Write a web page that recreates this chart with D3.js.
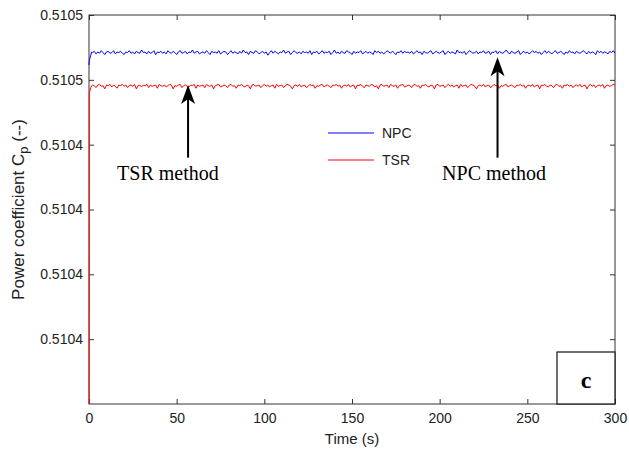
<!DOCTYPE html>
<html><head><meta charset="utf-8">
<script src="https://cdn.jsdelivr.net/npm/d3@7"></script>
<style>
html,body{margin:0;padding:0;background:#fff;}
svg{display:block;}
</style></head>
<body>
<script>
// ---------------- data ----------------
const xTicks = [0, 50, 100, 150, 200, 250, 300];
const yTicks = [0.51041, 0.51042, 0.51043, 0.51044, 0.51045, 0.51046];
const yTickLabels = ["0.5104", "0.5104", "0.5104", "0.5104", "0.5105", "0.5105"];
const yDomain = [0.51040, 0.51046];
const xDomain = [0, 300];

// start-up transient (s)
const startTime = [0, 0.2, 1, 1.5];
const npcStart = [0.5104523, 0.5104530, 0.5104538, 0.5104543];
const tsrStart = [0.5103800, 0.5104480, 0.5104488, 0.5104491];

// steady part, sampled every 1 s from 2 s to 300 s
const npcSteady = [
0.5104542,0.5104544,0.5104540,0.5104543,0.5104541,0.5104545,0.5104542,0.5104539,0.5104543,0.5104544,0.5104541,0.5104542,0.5104545,0.5104540,0.5104543,0.5104542,0.5104544,0.5104541,0.5104539,0.5104543,
0.5104542,0.5104545,0.5104541,0.5104543,0.5104540,0.5104544,0.5104542,0.5104541,0.5104546,0.5104542,0.5104543,0.5104540,0.5104544,0.5104541,0.5104542,0.5104545,0.5104539,0.5104543,0.5104542,0.5104544,
0.5104541,0.5104543,0.5104540,0.5104545,0.5104542,0.5104541,0.5104544,0.5104542,0.5104539,0.5104543,0.5104545,0.5104541,0.5104542,0.5104544,0.5104540,0.5104543,0.5104542,0.5104546,0.5104541,0.5104543,
0.5104544,0.5104540,0.5104542,0.5104543,0.5104541,0.5104545,0.5104542,0.5104539,0.5104544,0.5104542,0.5104543,0.5104541,0.5104545,0.5104540,0.5104542,0.5104544,0.5104543,0.5104539,0.5104542,0.5104545,
0.5104541,0.5104543,0.5104542,0.5104540,0.5104544,0.5104541,0.5104546,0.5104542,0.5104543,0.5104539,0.5104544,0.5104542,0.5104541,0.5104545,0.5104543,0.5104540,0.5104542,0.5104544,0.5104541,0.5104543,
0.5104538,0.5104542,0.5104545,0.5104541,0.5104544,0.5104542,0.5104540,0.5104543,0.5104542,0.5104546,0.5104541,0.5104543,0.5104544,0.5104539,0.5104542,0.5104545,0.5104542,0.5104541,0.5104543,0.5104540,
0.5104544,0.5104542,0.5104543,0.5104541,0.5104545,0.5104539,0.5104543,0.5104542,0.5104544,0.5104540,0.5104542,0.5104545,0.5104541,0.5104543,0.5104542,0.5104544,0.5104539,0.5104542,0.5104546,0.5104541,
0.5104543,0.5104540,0.5104544,0.5104542,0.5104541,0.5104545,0.5104543,0.5104542,0.5104539,0.5104544,0.5104541,0.5104543,0.5104542,0.5104545,0.5104540,0.5104542,0.5104544,0.5104541,0.5104543,0.5104542,
0.5104539,0.5104545,0.5104542,0.5104544,0.5104541,0.5104543,0.5104540,0.5104542,0.5104545,0.5104543,0.5104541,0.5104544,0.5104542,0.5104539,0.5104543,0.5104542,0.5104545,0.5104541,0.5104544,0.5104542,
0.5104543,0.5104541,0.5104544,0.5104540,0.5104542,0.5104545,0.5104542,0.5104543,0.5104539,0.5104544,0.5104542,0.5104541,0.5104543,0.5104545,0.5104540,0.5104542,0.5104544,0.5104542,0.5104541,0.5104543,
0.5104545,0.5104539,0.5104542,0.5104544,0.5104541,0.5104543,0.5104542,0.5104540,0.5104546,0.5104542,0.5104543,0.5104541,0.5104544,0.5104539,0.5104542,0.5104545,0.5104543,0.5104541,0.5104542,0.5104544,
0.5104540,0.5104543,0.5104542,0.5104545,0.5104541,0.5104542,0.5104544,0.5104539,0.5104543,0.5104542,0.5104545,0.5104540,0.5104544,0.5104542,0.5104541,0.5104543,0.5104546,0.5104542,0.5104540,0.5104544,
0.5104542,0.5104541,0.5104543,0.5104545,0.5104539,0.5104542,0.5104544,0.5104541,0.5104543,0.5104540,0.5104542,0.5104545,0.5104542,0.5104544,0.5104541,0.5104543,0.5104539,0.5104542,0.5104545,0.5104541,
0.5104544,0.5104542,0.5104540,0.5104543,0.5104545,0.5104541,0.5104542,0.5104544,0.5104542,0.5104539,0.5104543,0.5104541,0.5104545,0.5104542,0.5104543,0.5104540,0.5104544,0.5104542,0.5104541,0.5104543,
0.5104545,0.5104542,0.5104540,0.5104544,0.5104541,0.5104543,0.5104542,0.5104539,0.5104545,0.5104542,0.5104544,0.5104541,0.5104543,0.5104542,0.5104540,0.5104544,0.5104542,0.5104545,0.5104541
];
const tsrSteady = [
0.5104492,0.5104491,0.5104488,0.5104492,0.5104493,0.5104490,0.5104491,0.5104486,0.5104492,0.5104491,0.5104493,0.5104489,0.5104492,0.5104490,0.5104487,0.5104492,0.5104491,0.5104493,0.5104490,0.5104492,
0.5104488,0.5104491,0.5104492,0.5104490,0.5104493,0.5104486,0.5104491,0.5104492,0.5104489,0.5104492,0.5104491,0.5104493,0.5104488,0.5104492,0.5104490,0.5104491,0.5104492,0.5104487,0.5104493,0.5104491,
0.5104490,0.5104492,0.5104489,0.5104491,0.5104493,0.5104492,0.5104486,0.5104491,0.5104490,0.5104492,0.5104493,0.5104488,0.5104491,0.5104492,0.5104490,0.5104489,0.5104492,0.5104491,0.5104493,0.5104487,
0.5104492,0.5104490,0.5104491,0.5104492,0.5104488,0.5104493,0.5104491,0.5104490,0.5104492,0.5104486,0.5104491,0.5104492,0.5104493,0.5104489,0.5104490,0.5104492,0.5104491,0.5104488,0.5104492,0.5104493,
0.5104490,0.5104491,0.5104487,0.5104492,0.5104491,0.5104493,0.5104490,0.5104489,0.5104492,0.5104491,0.5104486,0.5104492,0.5104493,0.5104490,0.5104491,0.5104492,0.5104488,0.5104491,0.5104493,0.5104490,
0.5104492,0.5104489,0.5104491,0.5104492,0.5104487,0.5104493,0.5104490,0.5104491,0.5104492,0.5104488,0.5104491,0.5104493,0.5104492,0.5104490,0.5104486,0.5104491,0.5104492,0.5104490,0.5104493,0.5104489,
0.5104491,0.5104492,0.5104488,0.5104490,0.5104493,0.5104491,0.5104492,0.5104487,0.5104491,0.5104490,0.5104492,0.5104493,0.5104489,0.5104491,0.5104492,0.5104490,0.5104488,0.5104492,0.5104491,0.5104493,
0.5104490,0.5104492,0.5104487,0.5104491,0.5104492,0.5104490,0.5104493,0.5104489,0.5104491,0.5104492,0.5104486,0.5104492,0.5104491,0.5104493,0.5104490,0.5104488,0.5104492,0.5104491,0.5104490,0.5104493,
0.5104492,0.5104489,0.5104491,0.5104486,0.5104492,0.5104493,0.5104490,0.5104491,0.5104492,0.5104488,0.5104493,0.5104491,0.5104490,0.5104492,0.5104487,0.5104491,0.5104492,0.5104493,0.5104489,0.5104490,
0.5104492,0.5104491,0.5104488,0.5104492,0.5104493,0.5104490,0.5104491,0.5104487,0.5104492,0.5104491,0.5104493,0.5104490,0.5104489,0.5104492,0.5104491,0.5104486,0.5104492,0.5104493,0.5104490,0.5104491,
0.5104492,0.5104488,0.5104491,0.5104493,0.5104490,0.5104492,0.5104489,0.5104491,0.5104492,0.5104487,0.5104493,0.5104490,0.5104491,0.5104492,0.5104488,0.5104491,0.5104493,0.5104492,0.5104490,0.5104486,
0.5104491,0.5104492,0.5104490,0.5104493,0.5104489,0.5104491,0.5104492,0.5104488,0.5104490,0.5104493,0.5104491,0.5104492,0.5104487,0.5104491,0.5104490,0.5104492,0.5104493,0.5104489,0.5104491,0.5104492,
0.5104490,0.5104488,0.5104492,0.5104491,0.5104493,0.5104490,0.5104492,0.5104487,0.5104491,0.5104492,0.5104490,0.5104493,0.5104489,0.5104491,0.5104492,0.5104486,0.5104492,0.5104491,0.5104493,0.5104490,
0.5104489,0.5104492,0.5104491,0.5104488,0.5104492,0.5104493,0.5104490,0.5104491,0.5104487,0.5104492,0.5104491,0.5104493,0.5104490,0.5104492,0.5104488,0.5104491,0.5104492,0.5104490,0.5104493,0.5104489,
0.5104491,0.5104492,0.5104486,0.5104491,0.5104493,0.5104490,0.5104492,0.5104488,0.5104491,0.5104492,0.5104490,0.5104493,0.5104487,0.5104491,0.5104492,0.5104490,0.5104491,0.5104493,0.5104492
];
const seriesNames = ["NPC", "TSR"];
const seriesColors = ["#0000ff", "#ff0000"];

// annotations: label, time, tip value, tail value, text position
const annLabels = ["TSR method", "NPC method"];
const annTime = [56.5, 233];
const annTip = [0.5104492, 0.5104535];
const annTail = [0.5104380, 0.5104380];
const annTextTime = [45, 231];
const annTextValue = [0.5104345, 0.5104345];

// ---------------- layout ----------------
const W = 629, H = 456;
const M = {left: 89, right: 14, top: 15, bottom: 52};
const svg = d3.select("body").append("svg").attr("width", W).attr("height", H);

const x = d3.scaleLinear().domain(xDomain).range([M.left, W - M.right]);
const y = d3.scaleLinear().domain(yDomain).range([H - M.bottom, M.top]);

const steadyTime = d3.range(npcSteady.length).map(i => 2 + i * 298 / (npcSteady.length - 1));
const times = startTime.concat(steadyTime);
const npc = npcStart.concat(npcSteady);
const tsr = tsrStart.concat(tsrSteady);

svg.append("defs").append("clipPath").attr("id", "clip")
  .append("rect").attr("x", M.left - 1).attr("y", M.top)
  .attr("width", W - M.left - M.right + 1).attr("height", H - M.top - M.bottom);

svg.append("rect").attr("x", M.left).attr("y", M.top)
  .attr("width", W - M.left - M.right).attr("height", H - M.top - M.bottom)
  .attr("fill", "#fff");

const axisColor = "#333";
const tickFont = "Liberation Sans, Arial, sans-serif";

function styleAxis(g) {
  g.select(".domain").remove();
  g.selectAll(".tick line").attr("stroke", axisColor);
  g.selectAll(".tick text").attr("fill", "#222").style("font-family", tickFont).style("font-size", "14px");
}

svg.append("g").attr("transform", `translate(${M.left},0)`)
  .call(d3.axisLeft(y).tickValues(yTicks).tickFormat((d, i) => yTickLabels[i]).tickSizeInner(-5).tickSizeOuter(0).tickPadding(6))
  .call(styleAxis);
svg.append("g").attr("transform", `translate(${W - M.right},0)`)
  .call(d3.axisRight(y).tickValues(yTicks).tickFormat("").tickSizeInner(-5).tickSizeOuter(0))
  .call(styleAxis);
svg.append("g").attr("transform", `translate(0,${H - M.bottom})`)
  .call(d3.axisBottom(x).tickValues(xTicks).tickFormat(d3.format("d")).tickSizeInner(-5).tickSizeOuter(0).tickPadding(9))
  .call(styleAxis);
svg.append("g").attr("transform", `translate(0,${M.top})`)
  .call(d3.axisTop(x).tickValues(xTicks).tickFormat("").tickSizeInner(-5).tickSizeOuter(0))
  .call(styleAxis);

// frame
svg.append("rect").attr("x", M.left).attr("y", M.top)
  .attr("width", W - M.left - M.right).attr("height", H - M.top - M.bottom)
  .attr("fill", "none").attr("stroke", axisColor).attr("stroke-width", 1);

// lines
const line = d3.line().x((d, i) => x(times[i])).y(d => y(d));
const plot = svg.append("g").attr("clip-path", "url(#clip)");
[npc, tsr].forEach((s, k) => {
  plot.append("path").datum(s).attr("d", line)
    .attr("fill", "none").attr("stroke", seriesColors[k]).attr("stroke-width", 1);
});

// legend
const leg = svg.append("g");
seriesNames.forEach((n, k) => {
  const ly = 133 + k * 27;
  leg.append("line").attr("x1", 328).attr("x2", 374).attr("y1", ly).attr("y2", ly)
    .attr("stroke", seriesColors[k]).attr("stroke-width", 1);
  leg.append("text").attr("x", 382).attr("y", ly).attr("dy", "0.36em")
    .style("font-family", tickFont).style("font-size", "14px").attr("fill", "#222").text(n);
});

// annotations
annLabels.forEach((lab, k) => {
  const ax = x(annTime[k]), tipY = y(annTip[k]), tailY = y(annTail[k]);
  svg.append("line").attr("x1", ax).attr("x2", ax).attr("y1", tailY).attr("y2", tipY + 12)
    .attr("stroke", "#000").attr("stroke-width", 2);
  svg.append("path")
    .attr("d", `M${ax},${tipY} L${ax - 7},${tipY + 19} L${ax},${tipY + 14} L${ax + 7},${tipY + 19} Z`)
    .attr("fill", "#000");
  svg.append("text").attr("x", x(annTextTime[k])).attr("y", y(annTextValue[k]))
    .attr("text-anchor", "middle")
    .style("font-family", "Liberation Serif, Times New Roman, serif").style("font-size", "20px")
    .attr("fill", "#000").text(lab);
});

// "c" panel box
svg.append("rect").attr("x", 557).attr("y", 352).attr("width", W - M.right - 557).attr("height", H - M.bottom - 352)
  .attr("fill", "#fff").attr("stroke", "#111").attr("stroke-width", 1.2);
svg.append("text").attr("x", (557 + W - M.right) / 2).attr("y", 388).attr("text-anchor", "middle")
  .style("font-family", "Liberation Serif, Times New Roman, serif").style("font-size", "24px").style("font-weight", "bold")
  .attr("fill", "#000").text("c");

// axis labels
svg.append("text").attr("x", (M.left + W - M.right) / 2).attr("y", 444).attr("text-anchor", "middle")
  .style("font-family", tickFont).style("font-size", "15px").attr("fill", "#222").text("Time (s)");

const yl = svg.append("text").attr("transform", `translate(24,${(M.top + H - M.bottom) / 2}) rotate(-90)`)
  .attr("text-anchor", "middle")
  .style("font-family", tickFont).style("font-size", "17px").attr("fill", "#222");
yl.append("tspan").text("Power coefficient C");
yl.append("tspan").attr("dy", 4).style("font-size", "13px").text("p");
yl.append("tspan").attr("dy", -4).text(" (--)");
</script>
</body></html>
